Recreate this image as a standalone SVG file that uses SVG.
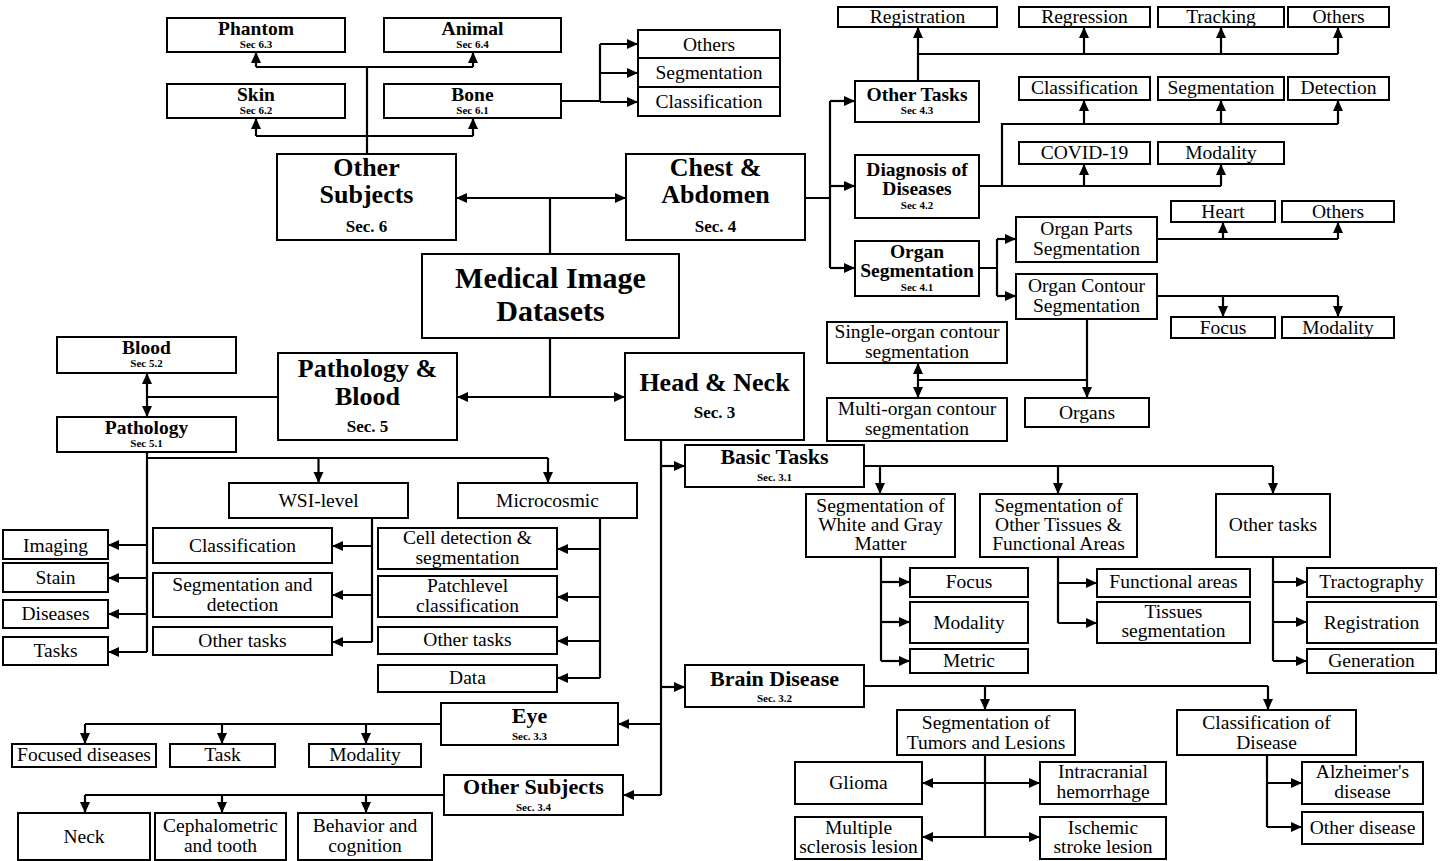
<svg xmlns="http://www.w3.org/2000/svg" width="1440" height="861" viewBox="0 0 1440 861">
<style>
rect{fill:#fff;stroke:#000;stroke-width:2}
path{fill:none;stroke:#000;stroke-width:2.2}
path.a{marker-end:url(#ah)}
path.aa{marker-start:url(#ah);marker-end:url(#ah)}
text{font-family:"Liberation Serif","Times New Roman",serif;text-anchor:middle;fill:#000}
.t{font-size:19.5px}
.b{font-size:19.5px;font-weight:bold}
.m{font-size:22px;font-weight:bold}
.l{font-size:26px;font-weight:bold}
.xl{font-size:30px;font-weight:bold}
.s{font-size:11px;font-weight:bold}
.sm{font-size:17px;font-weight:bold}
</style>
<defs>
<marker id="ah" markerUnits="userSpaceOnUse" markerWidth="12" markerHeight="12" refX="11" refY="5" orient="auto-start-reverse">
<path d="M0,0 L11,5 L0,10 z" style="fill:#000;stroke:none"/>
</marker>
</defs>
<rect x="0" y="0" width="1440" height="861" style="fill:#fff;stroke:none"/>
<g id="connectors">
<path d="M367,154 V67 M256,136 H473 M256,67 H473"/>
<path class="a" d="M256,67 V52"/><path class="a" d="M473,67 V52"/>
<path class="a" d="M256,136 V118"/><path class="a" d="M473,136 V118"/>
<path d="M561,101 H600 M600,44 V102"/>
<path class="a" d="M600,44 H638"/><path class="a" d="M600,73 H638"/><path class="a" d="M600,102 H638"/>
<path d="M550,254 V198"/><path class="aa" d="M456,198 H626"/>
<path d="M550,338 V397"/><path class="aa" d="M457,397 H625"/>
<path d="M278,397 H147"/><path class="aa" d="M147,373 V417"/>
<path d="M147,452 V652 M147,458 H548"/>
<path class="a" d="M147,545 H108"/><path class="a" d="M147,578 H108"/><path class="a" d="M147,614 H108"/><path class="a" d="M147,652 H108"/>
<path class="a" d="M318.5,458 V483"/><path class="a" d="M548,458 V483"/>
<path d="M372,518 V642"/>
<path class="a" d="M372,546 H332"/><path class="a" d="M372,595 H332"/><path class="a" d="M372,642 H332"/>
<path d="M600,518 V678"/>
<path class="a" d="M600,549 H557"/><path class="a" d="M600,597 H557"/><path class="a" d="M600,641 H557"/><path class="a" d="M600,678 H557"/>
<path d="M661,440 V795"/>
<path class="a" d="M661,466 H685"/><path class="a" d="M661,687 H685"/><path class="a" d="M661,724 H618"/><path class="a" d="M661,795 H623"/>
<path d="M864,466 H1273"/>
<path class="a" d="M880,466 V494"/><path class="a" d="M1058,466 V494"/><path class="a" d="M1273,466 V494"/>
<path d="M881,557 V661"/>
<path class="a" d="M881,582 H910"/><path class="a" d="M881,622 H910"/><path class="a" d="M881,661 H910"/>
<path d="M1058,557 V623"/>
<path class="a" d="M1058,583 H1097"/><path class="a" d="M1058,623 H1097"/>
<path d="M1273,557 V661"/>
<path class="a" d="M1273,582 H1307"/><path class="a" d="M1273,622 H1307"/><path class="a" d="M1273,661 H1307"/>
<path d="M864,686 H1268"/>
<path class="a" d="M985,686 V710"/><path class="a" d="M1268,686 V710"/>
<path d="M985,755 V837"/>
<path class="aa" d="M922,783 H1040"/><path class="aa" d="M922,837 H1040"/>
<path d="M1267,755 V827"/>
<path class="a" d="M1267,783 H1302"/><path class="a" d="M1267,827 H1302"/>
<path d="M441,724 H85"/>
<path class="a" d="M85,724 V744"/><path class="a" d="M222,724 V744"/><path class="a" d="M366,724 V744"/>
<path d="M444,795 H85"/>
<path class="a" d="M85,795 V813"/><path class="a" d="M222,795 V813"/><path class="a" d="M366,795 V813"/>
<path d="M805,198 H830 M830,101 V268"/>
<path class="a" d="M830,101 H855"/><path class="a" d="M830,186 H855"/><path class="a" d="M830,268 H855"/>
<path class="a" d="M918,81 V27"/>
<path d="M918,54 H1338"/>
<path class="a" d="M1084,54 V27"/><path class="a" d="M1221,54 V27"/><path class="a" d="M1338,54 V27"/>
<path d="M979,186 H1221 M1002,186 V124 H1338"/>
<path class="a" d="M1084,186 V164"/><path class="a" d="M1221,186 V164"/>
<path class="a" d="M1084,124 V100"/><path class="a" d="M1221,124 V100"/><path class="a" d="M1338,124 V100"/>
<path d="M979,268 H997 M997,239 V296"/>
<path class="a" d="M997,239 H1016"/><path class="a" d="M997,296 H1016"/>
<path d="M1157,239 H1338"/>
<path class="a" d="M1223,239 V222"/><path class="a" d="M1338,239 V222"/>
<path d="M1157,296 H1338"/>
<path class="a" d="M1223,296 V317"/><path class="a" d="M1338,296 V317"/>
<path class="a" d="M1087,319 V398"/>
<path d="M1087,380 H918"/><path class="aa" d="M918,363 V398"/>
</g>
<g id="phantom"><rect x="167" y="18" width="178" height="34"/><text class="b" x="256" y="35">Phantom</text><text class="s" x="256" y="48">Sec 6.3</text></g>
<g id="animal"><rect x="384" y="18" width="177" height="34"/><text class="b" x="472.5" y="35">Animal</text><text class="s" x="472.5" y="48">Sec 6.4</text></g>
<g id="skin"><rect x="167" y="84" width="178" height="34"/><text class="b" x="256" y="101">Skin</text><text class="s" x="256" y="114">Sec 6.2</text></g>
<g id="bone"><rect x="384" y="84" width="177" height="34"/><text class="b" x="472.5" y="101">Bone</text><text class="s" x="472.5" y="114">Sec 6.1</text></g>
<g id="bone-others"><rect x="638" y="30" width="142" height="28"/><text class="t" x="709" y="50.5">Others</text></g>
<g id="bone-seg"><rect x="638" y="58" width="142" height="29"/><text class="t" x="709" y="79">Segmentation</text></g>
<g id="bone-cls"><rect x="638" y="87" width="142" height="29"/><text class="t" x="709" y="108">Classification</text></g>
<g id="other-subjects"><rect x="277" y="154" width="179" height="86"/><text class="l" x="366.5" y="176">Other</text><text class="l" x="366.5" y="203">Subjects</text><text class="sm" x="366.5" y="232">Sec. 6</text></g>
<g id="chest"><rect x="626" y="154" width="179" height="86"/><text class="l" x="715.5" y="176">Chest &amp;</text><text class="l" x="715.5" y="203">Abdomen</text><text class="sm" x="715.5" y="232">Sec. 4</text></g>
<g id="root"><rect x="422" y="254" width="257" height="84"/><text class="xl" x="550.5" y="288">Medical Image</text><text class="xl" x="550.5" y="321">Datasets</text></g>
<g id="pathology-blood"><rect x="278" y="353" width="179" height="87"/><text class="l" x="367.5" y="377">Pathology &amp;</text><text class="l" x="367.5" y="405">Blood</text><text class="sm" x="367.5" y="432">Sec. 5</text></g>
<g id="head-neck"><rect x="625" y="353" width="179" height="87"/><text class="l" x="714.5" y="391">Head &amp; Neck</text><text class="sm" x="714.5" y="418">Sec. 3</text></g>
<g id="blood"><rect x="57" y="337" width="179" height="36"/><text class="b" x="146.5" y="354">Blood</text><text class="s" x="146.5" y="367">Sec 5.2</text></g>
<g id="pathology"><rect x="57" y="417" width="179" height="35"/><text class="b" x="146.5" y="434">Pathology</text><text class="s" x="146.5" y="447">Sec 5.1</text></g>
<g id="imaging"><rect x="3" y="530" width="105" height="29"/><text class="t" x="55.5" y="552">Imaging</text></g>
<g id="stain"><rect x="3" y="563" width="105" height="29"/><text class="t" x="55.5" y="584">Stain</text></g>
<g id="diseases"><rect x="3" y="600" width="105" height="28"/><text class="t" x="55.5" y="620">Diseases</text></g>
<g id="tasks"><rect x="3" y="637" width="105" height="28"/><text class="t" x="55.5" y="657">Tasks</text></g>
<g id="wsi"><rect x="229" y="483" width="179" height="35"/><text class="t" x="318.5" y="507">WSI-level</text></g>
<g id="micro"><rect x="458" y="483" width="179" height="35"/><text class="t" x="547.5" y="507">Microcosmic</text></g>
<g id="wsi-cls"><rect x="153" y="528" width="179" height="35"/><text class="t" x="242.5" y="552">Classification</text></g>
<g id="wsi-seg"><rect x="153" y="573" width="179" height="44"/><text class="t" x="242.5" y="591">Segmentation and</text><text class="t" x="242.5" y="611">detection</text></g>
<g id="wsi-other"><rect x="153" y="627" width="179" height="28"/><text class="t" x="242.5" y="647">Other tasks</text></g>
<g id="micro-cell"><rect x="378" y="528" width="179" height="41"/><text class="t" x="467.5" y="544">Cell detection &amp;</text><text class="t" x="467.5" y="564">segmentation</text></g>
<g id="micro-patch"><rect x="378" y="576" width="179" height="41"/><text class="t" x="467.5" y="592">Patchlevel</text><text class="t" x="467.5" y="612">classification</text></g>
<g id="micro-other"><rect x="378" y="627" width="179" height="27"/><text class="t" x="467.5" y="646">Other tasks</text></g>
<g id="micro-data"><rect x="378" y="665" width="179" height="27"/><text class="t" x="467.5" y="684">Data</text></g>
<g id="basic-tasks"><rect x="685" y="445" width="179" height="42"/><text class="m" x="774.5" y="464">Basic Tasks</text><text class="s" x="774.5" y="481">Sec. 3.1</text></g>
<g id="seg-wg"><rect x="806" y="494" width="149" height="63"/><text class="t" x="880.5" y="512">Segmentation of</text><text class="t" x="880.5" y="531">White and Gray</text><text class="t" x="880.5" y="550">Matter</text></g>
<g id="seg-ot"><rect x="980" y="494" width="157" height="63"/><text class="t" x="1058.5" y="512">Segmentation of</text><text class="t" x="1058.5" y="531">Other Tissues &amp;</text><text class="t" x="1058.5" y="550">Functional Areas</text></g>
<g id="brain-other"><rect x="1216" y="494" width="114" height="63"/><text class="t" x="1273" y="531">Other tasks</text></g>
<g id="wg-focus"><rect x="910" y="568" width="118" height="29"/><text class="t" x="969" y="588">Focus</text></g>
<g id="wg-modality"><rect x="910" y="602" width="118" height="41"/><text class="t" x="969" y="629">Modality</text></g>
<g id="wg-metric"><rect x="910" y="649" width="118" height="24"/><text class="t" x="969" y="667">Metric</text></g>
<g id="functional"><rect x="1097" y="569" width="153" height="28"/><text class="t" x="1173.5" y="588">Functional areas</text></g>
<g id="tissues"><rect x="1097" y="602" width="153" height="41"/><text class="t" x="1173.5" y="618">Tissues</text><text class="t" x="1173.5" y="637">segmentation</text></g>
<g id="tractography"><rect x="1307" y="568" width="129" height="29"/><text class="t" x="1371.5" y="588">Tractography</text></g>
<g id="registration-b"><rect x="1307" y="602" width="129" height="41"/><text class="t" x="1371.5" y="629">Registration</text></g>
<g id="generation"><rect x="1307" y="649" width="129" height="24"/><text class="t" x="1371.5" y="667">Generation</text></g>
<g id="brain-disease"><rect x="685" y="665" width="179" height="42"/><text class="m" x="774.5" y="686">Brain Disease</text><text class="s" x="774.5" y="702">Sec. 3.2</text></g>
<g id="seg-tumor"><rect x="897" y="710" width="178" height="45"/><text class="t" x="986" y="729">Segmentation of</text><text class="t" x="986" y="749">Tumors and Lesions</text></g>
<g id="cls-disease"><rect x="1177" y="710" width="179" height="45"/><text class="t" x="1266.5" y="729">Classification of</text><text class="t" x="1266.5" y="749">Disease</text></g>
<g id="glioma"><rect x="795" y="762" width="127" height="42"/><text class="t" x="858.5" y="789">Glioma</text></g>
<g id="intracranial"><rect x="1040" y="762" width="126" height="42"/><text class="t" x="1103" y="778">Intracranial</text><text class="t" x="1103" y="798">hemorrhage</text></g>
<g id="ms"><rect x="795" y="817" width="127" height="42"/><text class="t" x="858.5" y="834">Multiple</text><text class="t" x="858.5" y="853">sclerosis lesion</text></g>
<g id="ischemic"><rect x="1040" y="817" width="126" height="42"/><text class="t" x="1103" y="834">Ischemic</text><text class="t" x="1103" y="853">stroke lesion</text></g>
<g id="alzheimer"><rect x="1302" y="762" width="121" height="42"/><text class="t" x="1362.5" y="778">Alzheimer's</text><text class="t" x="1362.5" y="798">disease</text></g>
<g id="other-disease"><rect x="1302" y="812" width="121" height="32"/><text class="t" x="1362.5" y="834">Other disease</text></g>
<g id="eye"><rect x="441" y="703" width="177" height="42"/><text class="m" x="529.5" y="723">Eye</text><text class="s" x="529.5" y="740">Sec. 3.3</text></g>
<g id="focused"><rect x="12" y="744" width="144" height="23"/><text class="t" x="84" y="761">Focused diseases</text></g>
<g id="task"><rect x="170" y="744" width="105" height="23"/><text class="t" x="222.5" y="761">Task</text></g>
<g id="eye-modality"><rect x="309" y="744" width="112" height="23"/><text class="t" x="365" y="761">Modality</text></g>
<g id="hn-other"><rect x="444" y="775" width="179" height="40"/><text class="m" x="533.5" y="794">Other Subjects</text><text class="s" x="533.5" y="811">Sec. 3.4</text></g>
<g id="neck"><rect x="18" y="813" width="132" height="47"/><text class="t" x="84" y="843">Neck</text></g>
<g id="cephalometric"><rect x="155" y="813" width="131" height="47"/><text class="t" x="220.5" y="832">Cephalometric</text><text class="t" x="220.5" y="852">and tooth</text></g>
<g id="behavior"><rect x="298" y="813" width="134" height="47"/><text class="t" x="365" y="832">Behavior and</text><text class="t" x="365" y="852">cognition</text></g>
<g id="other-tasks"><rect x="855" y="81" width="124" height="41"/><text class="b" x="917" y="101">Other Tasks</text><text class="s" x="917" y="114">Sec 4.3</text></g>
<g id="diagnosis"><rect x="855" y="155" width="124" height="63"/><text class="b" x="917" y="176">Diagnosis of</text><text class="b" x="917" y="195">Diseases</text><text class="s" x="917" y="209">Sec 4.2</text></g>
<g id="organ-seg"><rect x="855" y="241" width="124" height="55"/><text class="b" x="917" y="258">Organ</text><text class="b" x="917" y="277">Segmentation</text><text class="s" x="917" y="291">Sec 4.1</text></g>
<g id="registration"><rect x="838" y="7" width="159" height="20"/><text class="t" x="917.5" y="23">Registration</text></g>
<g id="regression"><rect x="1019" y="7" width="131" height="20"/><text class="t" x="1084.5" y="23">Regression</text></g>
<g id="tracking"><rect x="1158" y="7" width="126" height="20"/><text class="t" x="1221" y="23">Tracking</text></g>
<g id="ot-others"><rect x="1288" y="7" width="101" height="20"/><text class="t" x="1338.5" y="23">Others</text></g>
<g id="dx-cls"><rect x="1019" y="77" width="131" height="23"/><text class="t" x="1084.5" y="94">Classification</text></g>
<g id="dx-seg"><rect x="1158" y="77" width="126" height="23"/><text class="t" x="1221" y="94">Segmentation</text></g>
<g id="dx-det"><rect x="1288" y="77" width="101" height="23"/><text class="t" x="1338.5" y="94">Detection</text></g>
<g id="covid"><rect x="1019" y="142" width="131" height="22"/><text class="t" x="1084.5" y="159">COVID-19</text></g>
<g id="dx-modality"><rect x="1158" y="142" width="126" height="22"/><text class="t" x="1221" y="159">Modality</text></g>
<g id="organ-parts"><rect x="1016" y="217" width="141" height="45"/><text class="t" x="1086.5" y="235">Organ Parts</text><text class="t" x="1086.5" y="255">Segmentation</text></g>
<g id="organ-contour"><rect x="1016" y="274" width="141" height="45"/><text class="t" x="1086.5" y="292">Organ Contour</text><text class="t" x="1086.5" y="312">Segmentation</text></g>
<g id="heart"><rect x="1171" y="201" width="104" height="21"/><text class="t" x="1223" y="218">Heart</text></g>
<g id="op-others"><rect x="1282" y="201" width="112" height="21"/><text class="t" x="1338" y="218">Others</text></g>
<g id="oc-focus"><rect x="1171" y="317" width="104" height="21"/><text class="t" x="1223" y="334">Focus</text></g>
<g id="oc-modality"><rect x="1282" y="317" width="112" height="21"/><text class="t" x="1338" y="334">Modality</text></g>
<g id="single-organ"><rect x="827" y="322" width="180" height="41"/><text class="t" x="917" y="338">Single-organ contour</text><text class="t" x="917" y="358">segmentation</text></g>
<g id="multi-organ"><rect x="827" y="398" width="180" height="43"/><text class="t" x="917" y="415">Multi-organ contour</text><text class="t" x="917" y="435">segmentation</text></g>
<g id="organs"><rect x="1025" y="398" width="124" height="29"/><text class="t" x="1087" y="419">Organs</text></g>
</svg>
